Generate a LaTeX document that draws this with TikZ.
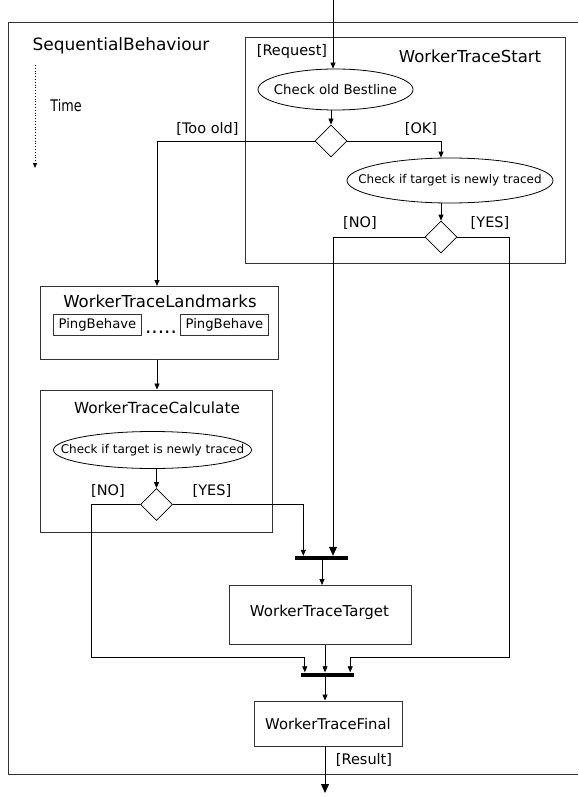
\documentclass[tikz,border=0pt]{standalone}
\usepackage{fontspec}
\setmainfont{DejaVu Sans}
\usetikzlibrary{shapes.geometric,arrows.meta,calc}
\begin{document}
\begin{tikzpicture}[x=1pt,y=-1pt,
  box/.style={draw=black!80,line width=0.9pt,inner sep=0pt,anchor=north west},
  pbox/.style={draw=black!80,line width=0.9pt,inner sep=0pt,anchor=north west},
  oval/.style={draw=black,line width=0.8pt,ellipse,inner sep=0pt},
  dia/.style={draw=black,line width=0.8pt,diamond,inner sep=0pt,minimum width=32pt,minimum height=32pt},
  bar/.style={fill=black,inner sep=0pt,minimum height=4pt},
  conn/.style={draw=black,line width=0.8pt},
  arr/.style={conn,-{Triangle[length=6pt,width=5pt]}},
  bigarr/.style={conn,-{Triangle[length=9pt,width=8pt]}},
  lbl/.style={inner sep=0pt,font=\fontsize{14.5}{16}\selectfont},
  ttl/.style={inner sep=0pt,font=\fontsize{16.5}{18}\selectfont}]
\useasboundingbox (0,0) rectangle (578,797);
% outer frame (right side lies outside the picture)
\draw[draw=black!80,line width=0.9pt] (578,22.5) -- (8,22.5) -- (8,774) -- (578,774);
\node[inner sep=0pt,font=\fontsize{17}{19}\selectfont] (seq) at (121,46) {SequentialBehaviour};
\coordinate (t0) at (35,65);
\coordinate (t1) at (35,168);
\draw[dotted,line width=0.8pt,-{Triangle[length=5pt,width=4pt]}] (t0) -- (t1);
\node[inner sep=0pt,font=\fontsize{16}{18}\selectfont] (time) at (66,106) {\scalebox{0.8}[1]{Time}};

% WorkerTraceStart
\node[box,minimum width=320pt,minimum height=226pt] (start) at (245,37) {};
\node[lbl] (req) at (292,52) {[Request]};
\node[ttl] (wts) at (470,56.5) {WorkerTraceStart};
\node[oval,minimum width=155pt,minimum height=41pt,font=\fontsize{13.3}{15}\selectfont] (chk1) at (335.5,89.5) {\makebox[0pt]{Check old Bestline}};
\node[dia] (d1) at (331,141) {};
\node[oval,minimum width=206pt,minimum height=45pt,font=\fontsize{12}{14}\selectfont] (chk2) at (450,180.5) {\makebox[0pt]{Check if target is newly traced}};
\node[dia] (d2) at (441,237) {};
\node[lbl] (tooold) at (207.5,128.5) {[Too old]};
\node[lbl] (ok) at (421,129) {[OK]};
\node[lbl] (no1) at (360,223) {[NO]};
\node[lbl] (yes1) at (490,223) {[YES]};

% WorkerTraceLandmarks
\node[box,minimum width=238pt,minimum height=73pt] (lm) at (40,286) {};
\node[ttl] (lmt) at (160,301) {WorkerTraceLandmarks};
\node[pbox,minimum width=88pt,minimum height=21pt,font=\fontsize{13.2}{15}\selectfont] (pb1) at (53,314) {PingBehave};
\node[pbox,minimum width=88pt,minimum height=21pt,font=\fontsize{13.2}{15}\selectfont] (pb2) at (180,314) {PingBehave};
\node[inner sep=0pt,anchor=base,font=\fontsize{20}{22}\selectfont] (dots) at (161,333) {.....};

% WorkerTraceCalculate
\node[box,minimum width=232pt,minimum height=142pt] (calc) at (39.5,389.5) {};
\node[ttl,font=\fontsize{15.3}{17}\selectfont] (calct) at (157,408) {WorkerTraceCalculate};
\node[oval,minimum width=198pt,minimum height=37pt,font=\fontsize{12}{14}\selectfont] (chk3) at (152.5,450) {\makebox[0pt]{Check if target is newly traced}};
\node[dia] (d3) at (156.5,504.5) {};
\node[lbl] (no2) at (108,491) {[NO]};
\node[lbl] (yes2) at (212,491) {[YES]};

% joins and sinks
\node[bar,minimum width=53pt] (bar1) at (321,558) {};
\node[box,minimum width=182pt,minimum height=59pt] (target) at (228.5,585) {};
\node[inner sep=0pt,font=\fontsize{15}{17}\selectfont] (targett) at (319.5,612) {WorkerTraceTarget};
\node[bar,minimum width=53pt] (bar2) at (327.5,674.5) {};
\node[box,minimum width=148pt,minimum height=45pt] (final) at (253.5,700.5) {};
\node[inner sep=0pt,font=\fontsize{14.8}{16}\selectfont] (finalt) at (328,724) {WorkerTraceFinal};
\node[lbl] (res) at (364,760) {[Result]};

% helper coordinates
\coordinate (in) at (333,0);
\coordinate (xl) at (157,0);
\coordinate (xm) at (325,0);
\coordinate (xt) at (322,0);
\coordinate (lno) at (91,657);
\coordinate (ryes) at (509,657);
\coordinate (out) at (325,793);

% connectors
\draw[arr] (in) -- (in |- chk1.north);
\draw[arr] (d1.north |- chk1.south) -- (d1.north);
\draw[arr] (d1.west) -| (xl |- lm.north);
\draw[arr] (d1.east) -| (d2.north |- chk2.north);
\draw[arr] (d2.north |- chk2.south) -- (d2.north);
\draw[bigarr] (d2.west) -| (in |- bar1.north);
\draw[arr] (d2.east) -| (ryes) -| ($(bar2.north east)+(-4,0)$);
\draw[arr] (xl |- lm.south) -- (xl |- calc.north);
\draw[arr] (d3.north |- chk3.south) -- (d3.north);
\draw[arr] (d3.east) -| ($(bar1.north west)+(9,0)$);
\draw[arr] (d3.west) -| (lno) -| ($(bar2.north west)+(4,0)$);
\draw[arr] (xt |- bar1.south) -- (xt |- target.north);
\draw[arr] (xm |- target.south) -- (xm |- bar2.north);
\draw[arr] (xm |- bar2.south) -- (xm |- final.north);
\draw[bigarr] (xm |- final.south) -- (out);
\end{tikzpicture}
\end{document}
